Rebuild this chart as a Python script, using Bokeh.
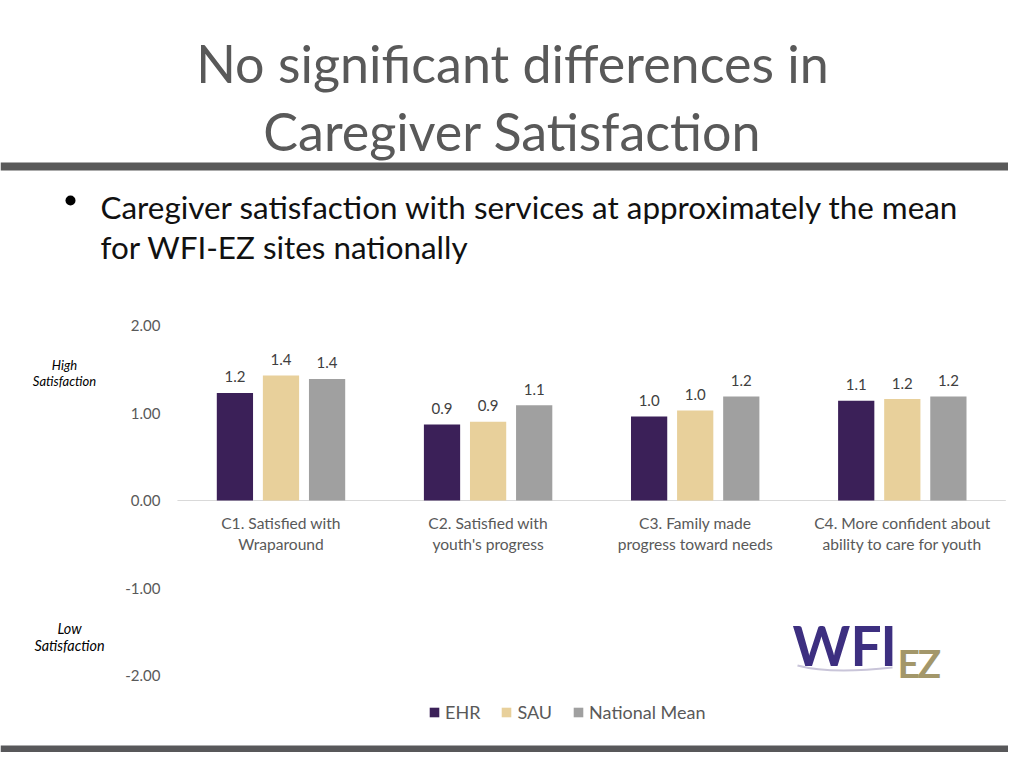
from bokeh.plotting import figure
from bokeh.models import Range1d, Legend, LegendItem
from bokeh.core.properties import value
from bokeh.embed import file_html
from bokeh.resources import INLINE

# ---------------- data ----------------
categories = [
    "C1. Satisfied with\nWraparound",
    "C2. Satisfied with\nyouth's progress",
    "C3. Family made\nprogress toward needs",
    "C4. More confident about\nability to care for youth",
]
series_names = ["EHR", "SAU", "National Mean"]
ehr = [1.23, 0.87, 0.96, 1.14]
sau = [1.43, 0.90, 1.03, 1.16]
national_mean = [1.39, 1.09, 1.19, 1.19]
series_values = [ehr, sau, national_mean]
series_colors = ["#3b2058", "#e8d09b", "#a0a0a0"]
y_ticks = [2, 1, 0, -1, -2]
y_tick_labels = ["2.00", "1.00", "0.00", "-1.00", "-2.00"]

title_lines = ["No significant differences in", "Caregiver Satisfaction"]
bullet_lines = ["Caregiver satisfaction with services at approximately the mean",
                "for WFI-EZ sites nationally"]

FONT = "Lato"
W, H = 1008, 752

# main data scale: group spacing 207.1 px, 87.5 px per unit
p = figure(width=W, height=H, output_backend="svg", toolbar_location=None,
           x_axis_type=None, y_axis_type=None, min_border=0,
           x_range=Range1d((0 - 280.5) / 207.1, (W - 280.5) / 207.1),
           y_range=Range1d((500 - H) / 87.5, 500 / 87.5))
p.outline_line_color = None
p.background_fill_color = "white"
p.border_fill_color = "white"
p.extra_x_ranges = {"px": Range1d(0, W)}
p.extra_y_ranges = {"px": Range1d(H, 0)}


def txt(x, y, s, size, color, align="left", style="normal", font=FONT):
    p.text(x=[x], y=[y], text=[s], x_range_name="px", y_range_name="px",
           text_font=value(font), text_font_size=f"{size}px", text_color=color,
           text_align=align, text_baseline="middle", text_font_style=style)


# ---------------- slide decoration ----------------
p.quad(left=[0], right=[W], top=[162], bottom=[170], x_range_name="px", y_range_name="px",
       fill_color="#595959", line_color=None)
p.quad(left=[0], right=[W], top=[745], bottom=[H], x_range_name="px", y_range_name="px",
       fill_color="#58585a", line_color=None)

txt(512, 62, title_lines[0], 52, "#595959", align="center")
txt(512, 130, title_lines[1], 52, "#595959", align="center")

p.scatter(x=[70], y=[200], size=10, marker="circle", fill_color="#000000", line_color=None,
          x_range_name="px", y_range_name="px")
txt(100, 206, bullet_lines[0], 31.4, "#111111")
txt(100, 246, bullet_lines[1], 31.4, "#111111")

txt(64, 364, "High", 13, "#000000", align="center", style="italic")
txt(64, 380, "Satisfaction", 13, "#000000", align="center", style="italic")
txt(69, 628, "Low", 14.4, "#000000", align="center", style="italic")
txt(69, 645, "Satisfaction", 14.4, "#000000", align="center", style="italic")

# logo
p.quadratic(x0=[797], y0=[665], x1=[892], y1=[667], cx=[830], cy=[674],
            x_range_name="px", y_range_name="px", line_color="#c9c5d9", line_width=2)
txt(792, 644, "W", 55, "#3d2f80", style="bold")
txt(850, 644, "F", 55, "#3d2f80", style="bold")
txt(880, 644, "I", 55, "#3d2f80", style="bold")
txt(897, 662, "E", 39, "#a3976a", style="bold")
txt(917, 662, "Z", 39, "#a3976a", style="bold")

# ---------------- chart ----------------
n = len(categories)
p.segment(x0=[-0.5], x1=[n - 0.5], y0=[0], y1=[0], line_color="#d9d9d9", line_width=1)

p.text(x=[-0.5] * len(y_ticks), y=y_ticks, text=y_tick_labels, x_offset=-17,
       text_font=value(FONT), text_font_size="15px", text_color="#595959",
       text_align="right", text_baseline="middle")

line1 = [c.split("\n")[0] for c in categories]
line2 = [c.split("\n")[1] for c in categories]
xs = list(range(n))
p.text(x=xs, y=[0] * n, text=line1, y_offset=22, text_font=value(FONT), text_font_size="15.6px",
       text_color="#595959", text_align="center", text_baseline="middle")
p.text(x=xs, y=[0] * n, text=line2, y_offset=43, text_font=value(FONT), text_font_size="15.6px",
       text_color="#595959", text_align="center", text_baseline="middle")

offsets = [-0.2225, 0.0, 0.2225]
bar_w = 0.175
items = []
for name, vals, col, off in zip(series_names, series_values, series_colors, offsets):
    bx = [i + off for i in range(n)]
    r = p.vbar(x=bx, top=vals, bottom=0, width=bar_w, fill_color=col, line_color=None)
    p.text(x=bx, y=vals, text=[f"{v:.1f}" for v in vals], y_offset=-16,
           text_font=value(FONT), text_font_size="15px", text_color="#404040",
           text_align="center", text_baseline="middle")
    items.append(LegendItem(label=name, renderers=[r]))

legend = Legend(items=items, orientation="horizontal", location=(428, 29),
                padding=0, margin=0, spacing=20, label_standoff=5,
                glyph_width=12, glyph_height=12,
                label_text_font=FONT, label_text_font_size="18px", label_text_color="#595959",
                border_line_color=None, background_fill_alpha=0)
p.add_layout(legend)

open("out.html", "w").write(file_html(p, INLINE))
